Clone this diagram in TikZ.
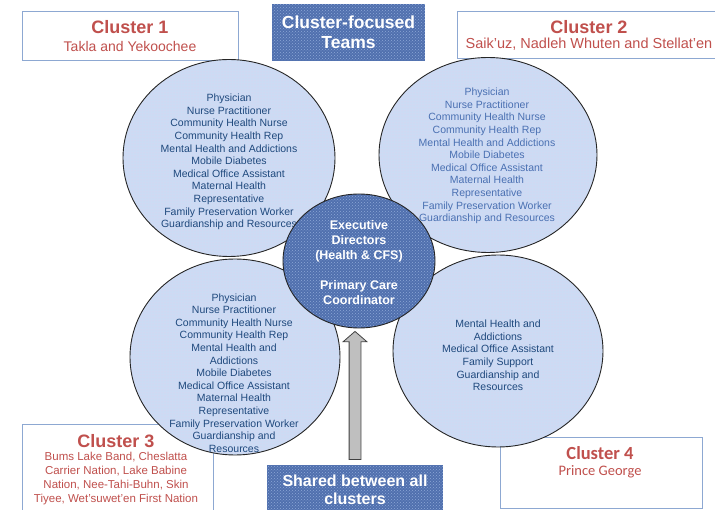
\documentclass[tikz,border=0pt]{standalone}
\usepackage{fontspec}
\setmainfont{Liberation Sans}
\newfontfamily\calibri{Carlito}
\usepackage{tikz}
\usetikzlibrary{shapes.geometric,shapes.arrows,patterns}
\definecolor{clred}{RGB}{192,80,77}
\definecolor{clline}{RGB}{141,168,210}
\definecolor{teamblue}{RGB}{204,219,244}
\definecolor{teamspot}{RGB}{228,208,236}
\definecolor{deepblue}{RGB}{80,112,174}
\definecolor{deepspot}{RGB}{142,168,215}
\definecolor{listblue}{RGB}{31,73,125}
\definecolor{paleblue}{RGB}{74,112,178}
\newcommand{\fs}[2]{\fontsize{#1}{#2}\selectfont}

\begin{document}
\begin{tikzpicture}[x=1pt,y=1pt,
  clbox/.style={draw=clline,line width=1pt,fill=white},
  cltitle/.style={text=clred,font=\bfseries\fs{18}{20},inner sep=0},
  clsub/.style={text=clred,font=\fs{14}{16},inner sep=0,align=center},
  team/.style={ellipse,draw=black!85,line width=.9pt,preaction={fill=teamblue},
    pattern=dots,pattern color=teamspot},
  hub/.style={ellipse,draw=black!85,line width=.9pt,preaction={fill=deepblue},
    pattern=crosshatch dots,pattern color=deepspot},
  list/.style={text=listblue,align=center,font=\fs{10.5}{12.6},inner sep=0},
  banner/.style={preaction={fill=deepblue},pattern=crosshatch dots,pattern color=deepspot,
    text=white,align=center,font=\bfseries\fs{17.5}{20}},
  sharedarrow/.style={single arrow,draw=black!75,fill=black!25,line width=.8pt,
    rotate=90,anchor=tail,minimum height=128,minimum width=23,inner sep=5.5pt,
    single arrow head extend=6,single arrow tip angle=98}]
\useasboundingbox (0,0) rectangle (715,-510);

%cluster boxes
\node[clbox,minimum width=216,minimum height=49] (c1box) at (130,-36.5) {};
\node[cltitle] (c1title) at (130,-27) {Cluster 1};
\node[clsub] (c1sub) at (130,-47) {Takla and Yekoochee};
\node[clbox,minimum width=264,minimum height=47] (c2box) at (589,-35.5) {};
\node[cltitle] (c2title) at (589,-27) {Cluster 2};
\node[clsub,font=\fs{14.5}{16}] (c2sub) at (589,-44) {Saik’uz, Nadleh Whuten and Stellat’en};
\node[clbox,minimum width=191,minimum height=90] (c3box) at (117.5,-470) {};
\node[cltitle] (c3title) at (116,-441) {Cluster 3};
\node[clsub,font=\fs{11.5}{14}] (c3sub) at (116,-479) {Bums Lake Band, Cheslatta\\Carrier Nation, Lake Babine\\Nation, Nee-Tahi-Buhn, Skin\\Tiyee, Wet’suwet’en First Nation};
\node[clbox,minimum width=202,minimum height=70] (c4box) at (601,-473) {};
\node[cltitle,font=\calibri\bfseries\fs{18.5}{20}] (c4title) at (600,-453) {Cluster 4};
\node[clsub,font=\calibri\fs{14.5}{16}] (c4sub) at (600,-472) {Prince George};

%team circles
\node[team,minimum width=212,minimum height=197] (team1) at (229,-158) {};
\node[team,minimum width=218,minimum height=195] (team2) at (488,-155) {};
\node[team,minimum width=210,minimum height=196] (team3) at (235,-357) {};
\node[team,minimum width=210,minimum height=192] (team4) at (498,-351) {};
\node[list] (list1) at (229,-162) {Physician\\Nurse Practitioner\\Community Health Nurse\\Community Health Rep\\Mental Health and Addictions\\Mobile Diabetes\\Medical Office Assistant\\Maternal Health\\Representative\\Family Preservation Worker\\Guardianship and Resources};
\node[list,text=paleblue] (list2) at (487,-156) {Physician\\Nurse Practitioner\\Community Health Nurse\\Community Health Rep\\Mental Health and Addictions\\Mobile Diabetes\\Medical Office Assistant\\Maternal Health\\Representative\\Family Preservation Worker\\Guardianship and Resources};
\node[list] (list3) at (234,-373) {Physician\\Nurse Practitioner\\Community Health Nurse\\Community Health Rep\\Mental Health and\\Addictions\\Mobile Diabetes\\Medical Office Assistant\\Maternal Health\\Representative\\Family Preservation Worker\\Guardianship and\\Resources};
\node[list] (list4) at (498,-355.5) {Mental Health and\\Addictions\\Medical Office Assistant\\Family Support\\Guardianship and\\Resources};

%centre
\node[hub,minimum width=152,minimum height=134] (core) at (359,-261) {};
\node[text=white,align=center,font=\bfseries\fs{12.5}{15},inner sep=0] (coretext) at (359,-262.5) {Executive\\Directors\\(Health \& CFS)\\[15pt]Primary Care\\Coordinator};

%banners
\node[banner,minimum width=153,minimum height=57] (focus) at (348.5,-32.5) {Cluster-focused\\Teams};
\node[banner,minimum width=176,minimum height=50,font=\bfseries\fs{16}{18}] (shared) at (355,-490) {Shared between all\\clusters};
\node[sharedarrow] (up) at ([yshift=5]shared.north) {};
\end{tikzpicture}
\end{document}
